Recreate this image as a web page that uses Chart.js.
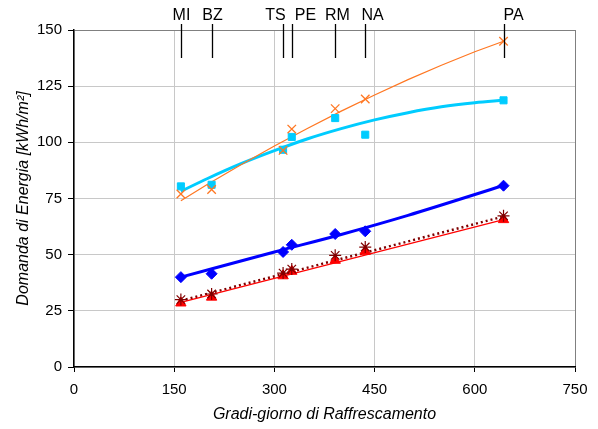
<!DOCTYPE html>
<html>
<head>
<meta charset="utf-8">
<script src="https://cdn.jsdelivr.net/npm/chart.js@4"></script>
<style>
  html, body { margin: 0; padding: 0; background: #fff; }
  #wrap { width: 598px; height: 429px; }
</style>
</head>
<body>
<div id="wrap"><canvas id="gradiChart"></canvas></div>
<script>
// cities and cooling degree days
const cityLabels = ['MI', 'BZ', 'TS', 'PE', 'RM', 'NA', 'PA'];
const gradiGiorno = [160, 206, 313, 326, 391, 436, 643];

// measured points (kWh/m2)
const serieArancio = [77, 79, 96.4, 105.9, 115, 119.3, 145];
const serieCiano = [80.4, 81.1, 96.7, 102.4, 110.8, 103.4, 118.7];
const serieBlu = [40.0, 41.5, 51.2, 54.4, 59.2, 60.4, 80.7];
const serieRossa = [28.5, 31.1, 40.6, 42.6, 47.5, 51.5, 65.6];
const serieBordeaux = [30.0, 32.5, 41.8, 43.6, 49.7, 53.4, 67.3];

// trend lines
const trendX = [160, 200, 250, 300, 350, 400, 450, 500, 550, 600, 643];
const trendArancio = [74.0, 81.3, 90.0, 98.4, 106.3, 113.9, 121.1, 127.9, 134.3, 140.3, 145.0];
const trendCiano = [78.2, 83.9, 90.5, 96.3, 101.6, 106.1, 110.0, 113.2, 115.8, 117.6, 118.7];
const trendBluX = [160, 300, 400, 500, 643];
const trendBlu = [40.0, 51.2, 59.0, 67.5, 80.8];
const trendLinX = [160, 643];
const trendRossa = [28.8, 65.6];
const trendBordeaux = [29.5, 67.0];

// axis ticks
const xTicks = [0, 150, 300, 450, 600, 750];
const yTicks = [0, 25, 50, 75, 100, 125, 150];

const font = "Arial, 'Liberation Sans', sans-serif";
Chart.defaults.font.family = font;
Chart.defaults.color = '#000';

const pts = (xs, ys) => xs.map((x, i) => ({ x: x, y: ys[i] }));

// small shifts so the city names do not overlap
const labelShift = { MI: 0, BZ: 0, TS: -8, PE: 13, RM: 2, NA: 7, PA: 9 };

const cityPlugin = {
    id: 'cityTicks',
    afterDatasetsDraw(chart) {
        const ctx = chart.ctx;
        const xs = chart.scales.x;
        const top = chart.chartArea.top;
        ctx.save();
        ctx.strokeStyle = '#000';
        ctx.lineWidth = 1.3;
        ctx.fillStyle = '#000';
        ctx.font = '16px ' + font;
        ctx.textAlign = 'center';
        ctx.textBaseline = 'middle';
        cityLabels.forEach((c, i) => {
            const px = Math.round(xs.getPixelForValue(gradiGiorno[i])) + 0.5;
            ctx.beginPath();
            ctx.moveTo(px, top - 6);
            ctx.lineTo(px, top + 28);
            ctx.stroke();
            ctx.fillText(c, px + labelShift[c], 16);
        });
        ctx.restore();
    }
};

// outer edge of the plot is a darker grey
const xGridColor = (c) => (c.tick && c.tick.value === 750) ? '#808080' : '#c8c8c8';
const yGridColor = (c) => (c.tick && c.tick.value === 150) ? '#808080' : '#c8c8c8';

new Chart(document.getElementById('gradiChart'), {
    type: 'scatter',
    data: {
        datasets: [
            { label: 'trend arancio', data: pts(trendX, trendArancio), showLine: true, borderColor: '#ff7722', borderWidth: 1.2, pointRadius: 0, order: 10 },
            { label: 'trend ciano', data: pts(trendX, trendCiano), showLine: true, borderColor: '#00ccff', borderWidth: 3, pointRadius: 0, cubicInterpolationMode: 'monotone', order: 11 },
            { label: 'trend blu', data: pts(trendBluX, trendBlu), showLine: true, borderColor: '#0000ff', borderWidth: 3, pointRadius: 0, cubicInterpolationMode: 'monotone', order: 12 },
            { label: 'trend rossa', data: pts(trendLinX, trendRossa), showLine: true, borderColor: '#ff0000', borderWidth: 1.2, pointRadius: 0, order: 13 },
            { label: 'trend bordeaux', data: pts(trendLinX, trendBordeaux), showLine: true, borderColor: '#800000', borderWidth: 2.5, borderDash: [2, 3], pointRadius: 0, order: 14 },

            { label: 'Arancio', data: pts(gradiGiorno, serieArancio), pointStyle: 'crossRot', pointRadius: 6, borderColor: '#ff7722', backgroundColor: '#ff7722', pointBorderWidth: 1.3, order: 3 },
            { label: 'Ciano', data: pts(gradiGiorno, serieCiano), pointStyle: 'rect', pointRadius: 5, borderColor: '#00ccff', backgroundColor: '#00ccff', order: 4 },
            { label: 'Blu', data: pts(gradiGiorno, serieBlu), pointStyle: 'rectRot', pointRadius: 5.5, borderColor: '#0000ff', backgroundColor: '#0000ff', order: 5 },
            { label: 'Rossa', data: pts(gradiGiorno, serieRossa), pointStyle: 'triangle', pointRadius: 6, borderColor: '#ff0000', backgroundColor: '#ff0000', order: 2 },
            { label: 'Bordeaux', data: pts(gradiGiorno, serieBordeaux), pointStyle: 'star', pointRadius: 6, borderColor: '#800000', backgroundColor: '#800000', pointBorderWidth: 1.2, order: 1 }
        ]
    },
    options: {
        responsive: true,
        maintainAspectRatio: false,
        animation: false,
        layout: { padding: { top: 30, right: 23, left: 0, bottom: 0 } },
        scales: {
            x: {
                type: 'linear',
                min: 0,
                max: 750,
                afterBuildTicks: (s) => { s.ticks = xTicks.map(v => ({ value: v })); },
                afterFit: (s) => { s.height = 62; },
                grid: { color: xGridColor, tickColor: '#000', tickLength: 5, lineWidth: 1 },
                border: { color: '#000', width: 1.5 },
                ticks: { font: { size: 15 }, padding: 9, maxRotation: 0 },
                title: { display: true, text: 'Gradi-giorno di Raffrescamento', font: { size: 16, style: 'italic' }, padding: { top: 0, bottom: 5 } }
            },
            y: {
                min: 0,
                max: 150,
                afterBuildTicks: (s) => { s.ticks = yTicks.map(v => ({ value: v })); },
                afterFit: (s) => { s.width = 74; },
                grid: { color: yGridColor, tickColor: '#000', tickLength: 6, lineWidth: 1 },
                border: { color: '#000', width: 1.5 },
                ticks: { font: { size: 15 }, padding: 6 },
                title: { display: true, text: 'Domanda di Energia [kWh/m²]', font: { size: 16, style: 'italic' }, padding: { top: 14, bottom: 0 } }
            }
        },
        plugins: {
            legend: { display: false },
            tooltip: { enabled: false }
        }
    },
    plugins: [cityPlugin]
});
</script>
</body>
</html>
